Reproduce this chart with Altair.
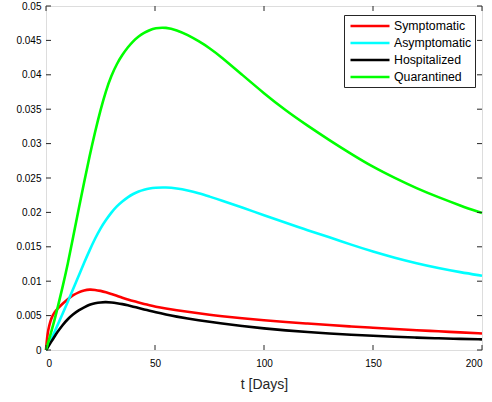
import altair as alt
import pandas as pd

# time grid (days)
t_days = [0, 0.5, 1, 2, 3, 4, 5, 7.5, 10, 12.5, 15, 17.5, 20, 22.5, 25, 27.5, 30, 32.5, 35,
          37.5, 40, 42.5, 45, 47.5, 50, 55, 60, 65, 70, 75, 80, 90, 100, 110, 120, 130,
          140, 150, 160, 170, 180, 190, 200]

symptomatic = [0, 0.0018, 0.0029, 0.0042, 0.0050, 0.0055, 0.0059, 0.0067, 0.0074, 0.0080,
               0.0084, 0.00868, 0.0088, 0.00875, 0.0086, 0.0084, 0.00815, 0.0079, 0.0076,
               0.00735, 0.0071, 0.0069, 0.0067, 0.0065, 0.0063, 0.00602, 0.00578, 0.00555,
               0.00533, 0.00512, 0.00493, 0.0046, 0.00432, 0.00407, 0.00384, 0.00362,
               0.00342, 0.00323, 0.00305, 0.00288, 0.00272, 0.00256, 0.0024]

asymptomatic = [0, 0.0003, 0.0006, 0.0013, 0.0020, 0.0027, 0.0034, 0.0052, 0.0070, 0.0089,
                0.0108, 0.0127, 0.0145, 0.0162, 0.0177, 0.0189, 0.0200, 0.0209, 0.0216,
                0.0222, 0.0227, 0.02305, 0.0233, 0.0235, 0.0236, 0.02365, 0.0235, 0.0232,
                0.0228, 0.0223, 0.0218, 0.0207, 0.0196, 0.0185, 0.0174, 0.0164, 0.0153,
                0.0143, 0.0134, 0.0126, 0.0119, 0.0113, 0.0108]

hospitalized = [0, 0.0002, 0.0005, 0.0010, 0.0015, 0.0020, 0.0025, 0.0036, 0.0045, 0.0052,
                0.0058, 0.0062, 0.0066, 0.0068, 0.00693, 0.00697, 0.0069, 0.0068, 0.00668,
                0.0065, 0.0063, 0.0061, 0.0059, 0.0057, 0.0055, 0.00515, 0.00485, 0.00458,
                0.00433, 0.0041, 0.00388, 0.00348, 0.00313, 0.00284, 0.0026, 0.0024,
                0.00222, 0.00206, 0.00192, 0.0018, 0.0017, 0.00162, 0.00155]

quarantined = [0, 0.0005, 0.0011, 0.0022, 0.0033, 0.0045, 0.0057, 0.0090, 0.0125, 0.0165,
               0.0205, 0.0244, 0.0282, 0.0317, 0.0349, 0.0377, 0.0399, 0.0416, 0.0429,
               0.0440, 0.0449, 0.0456, 0.0461, 0.0465, 0.0468, 0.0469, 0.0465, 0.0458,
               0.0449, 0.0439, 0.0427, 0.0400, 0.0373, 0.0348, 0.0326, 0.0305, 0.0285,
               0.0266, 0.0250, 0.0235, 0.0222, 0.0210, 0.0199]

series_names = ["Symptomatic", "Asymptomatic", "Hospitalized", "Quarantined"]
series_colors = ["#ff0000", "#00ffff", "#000000", "#00ff00"]

x_ticks = [0, 50, 100, 150, 200]
y_ticks = [0, 0.005, 0.01, 0.015, 0.02, 0.025, 0.03, 0.035, 0.04, 0.045, 0.05]

rows = []
for name, vals in zip(series_names, [symptomatic, asymptomatic, hospitalized, quarantined]):
    for i, (t, v) in enumerate(zip(t_days, vals)):
        rows.append({"t": t, "value": v, "series": name, "k": i})
df = pd.DataFrame(rows)

W, H = 436, 344
FONT = "Liberation Sans"
AX = "#262626"

xscale = alt.Scale(domain=[0, 200], nice=False)
yscale = alt.Scale(domain=[0, 0.05], nice=False)

x_axis = alt.Axis(values=x_ticks, ticks=False, tickSize=0, domain=False, grid=False,
                  labelPadding=8, titlePadding=9, format="d",
                  titleFontWeight="normal", titleFontSize=14, titleFont=FONT, titleColor=AX)
y_axis = alt.Axis(values=y_ticks, ticks=False, tickSize=0, domain=False, grid=False,
                  labelPadding=5, format=".3~f")

lines = alt.Chart(df).mark_line(strokeWidth=2.6, interpolate="basis").encode(
    x=alt.X("t:Q", scale=xscale, title="t [Days]", axis=x_axis),
    y=alt.Y("value:Q", scale=yscale, title=None, axis=y_axis),
    color=alt.Color("series:N", scale=alt.Scale(domain=series_names, range=series_colors),
                    sort=series_names,
                    legend=alt.Legend(title=None, orient="none", legendX=298, legendY=9,
                                      strokeColor=AX, fillColor="white", padding=3,
                                      symbolType="M-3,0H3", symbolSize=169,
                                      symbolStrokeWidth=2.6, symbolOffset=15,
                                      labelOffset=16, rowPadding=2,
                                      labelExpr="datum.label + '\u00a0\u00a0\u00a0'",
                                      labelFont=FONT, labelFontSize=12.3,
                                      labelColor="#000000")),
    order=alt.Order("k:Q"),
)

xt = pd.DataFrame({"xt": x_ticks})
yt = pd.DataFrame({"yt": y_ticks})

xb = alt.Chart(xt).mark_rule(color=AX, strokeWidth=1).encode(
    x=alt.X("xt:Q", scale=xscale, title="t [Days]", axis=x_axis), y=alt.value(H), y2=alt.value(H - 5))
xtop = alt.Chart(xt).mark_rule(color=AX, strokeWidth=1).encode(
    x=alt.X("xt:Q", scale=xscale, title="t [Days]", axis=x_axis), y=alt.value(0), y2=alt.value(5))
yl = alt.Chart(yt).mark_rule(color=AX, strokeWidth=1).encode(
    y=alt.Y("yt:Q", scale=yscale, title=None, axis=y_axis), x=alt.value(0), x2=alt.value(5))
yr = alt.Chart(yt).mark_rule(color=AX, strokeWidth=1).encode(
    y=alt.Y("yt:Q", scale=yscale, title=None, axis=y_axis), x=alt.value(W), x2=alt.value(W - 5))

chart = alt.layer(lines, xb, xtop, yl, yr).properties(
    width=W, height=H,
    autosize=alt.AutoSizeParams(type="none"),
    padding={"left": 46, "top": 6, "right": 10, "bottom": 52},
).configure_view(
    stroke=AX, strokeWidth=1
).configure_axis(
    labelFont=FONT, labelFontSize=12.5, labelColor=AX,
    titleFont=FONT, titleFontSize=14, titleColor=AX, titleFontWeight="normal",
).configure(background="white")

chart.save("out.html", embed_options={"renderer": "svg", "actions": False})
